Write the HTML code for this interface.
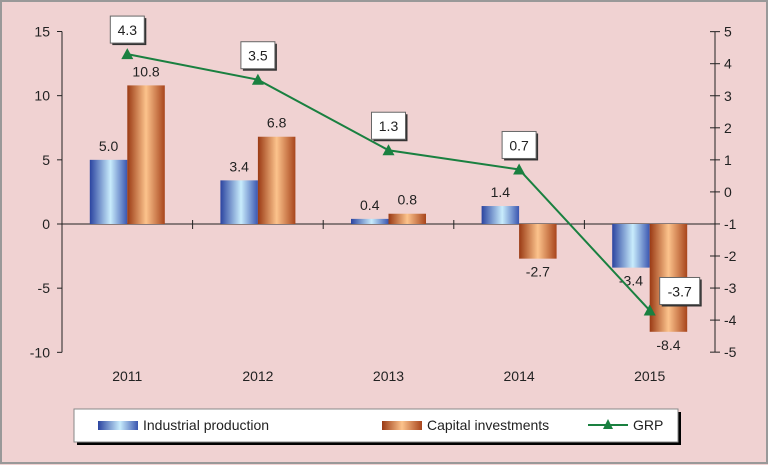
<!DOCTYPE html>
<html><head><meta charset="utf-8"><style>
html,body{margin:0;padding:0;width:768px;height:465px;overflow:hidden;background:#f0d2d2}
svg{display:block;font-family:"Liberation Sans","DejaVu Sans",sans-serif}
</style></head><body>
<svg id="chart" width="768" height="465">
<defs>
<linearGradient id="gInd" x1="0" x2="1" y1="0" y2="0"><stop offset="0" stop-color="#2b44a0"/><stop offset="0.55" stop-color="#c8ecfc"/><stop offset="1" stop-color="#3a56b0"/></linearGradient>
<linearGradient id="gCap" x1="0" x2="1" y1="0" y2="0"><stop offset="0" stop-color="#9a3a14"/><stop offset="0.5" stop-color="#fcc38c"/><stop offset="1" stop-color="#a8451c"/></linearGradient>
</defs>
<rect x="1" y="1" width="766" height="462" fill="#f0d2d2" stroke="#999" stroke-width="2"/>
<g id="plot"></g>
<g>
<rect x="77" y="412" width="604" height="33" fill="#000"/>
<rect x="74" y="409" width="604" height="33" fill="#fff" stroke="#888"/>
<rect x="98" y="421" width="40" height="9" fill="url(#gInd)"/>
<text x="143" y="430" font-size="14" fill="#222">Industrial production</text>
<rect x="382" y="421" width="40" height="9" fill="url(#gCap)"/>
<text x="427" y="430" font-size="14" fill="#222">Capital investments</text>
<line x1="588" y1="425" x2="628" y2="425" stroke="#1a8040" stroke-width="2"/>
<polygon points="608,419 603,429 613,429" fill="#1a8040"/>
<text x="633" y="430" font-size="14" fill="#222">GRP</text>
</g>
</svg>
<script>
const categories = ["2011","2012","2013","2014","2015"];
const industrial = [5.0, 3.4, 0.4, 1.4, -3.4];
const capital = [10.8, 6.8, 0.8, -2.7, -8.4];
const grp = [4.3, 3.5, 1.3, 0.7, -3.7];
const leftTicks = [15,10,5,0,-5,-10];
const rightTicks = [5,4,3,2,1,0,-1,-2,-3,-4,-5];

const NS="http://www.w3.org/2000/svg";
const g=document.getElementById('plot');
const X0=62, X1=715, catW=(X1-X0)/categories.length;
const yL=v=>224-(v)*(192.5/15);
const yR=v=>191.9-(v)*32.05;
const cx=i=>X0+catW*(i+0.5);
function el(t,a,txt){const e=document.createElementNS(NS,t);for(const k in a)e.setAttribute(k,a[k]);if(txt!==undefined)e.textContent=txt;g.appendChild(e);return e;}
const fmt=v=>v.toFixed(1);
// axes
let e=el('line',{x1:X0,y1:yL(15),x2:X0,y2:yL(-10),stroke:'#222'});


leftTicks.forEach(t=>{el('line',{x1:X0-5,x2:X0,y1:yL(t),y2:yL(t),stroke:'#222'});
 const l=el('text',{x:X0-12,y:yL(t)+5,'text-anchor':'end','font-size':14,fill:'#222'},String(t));
 
 });
e=el('line',{x1:X1,y1:yR(5),x2:X1,y2:yR(-5),stroke:'#222'});


rightTicks.forEach(t=>{el('line',{x1:X1-5,x2:X1+5,y1:yR(t),y2:yR(t),stroke:'#222'});
 const l=el('text',{x:X1+9,y:yR(t)+5,'font-size':14,fill:'#222'},String(t));
 
 });
e=el('line',{x1:X0,y1:yL(0),x2:X1,y2:yL(0),stroke:'#222'});


for(let i=1;i<categories.length;i++)el('line',{x1:X0+catW*i,x2:X0+catW*i,y1:yL(0)-4,y2:yL(0)+5,stroke:'#222'});
const bw=37.5;
categories.forEach((c,i)=>{
 const l=el('text',{x:cx(i),y:381,'text-anchor':'middle','font-size':14,fill:'#222'},c);
 
 
 [[industrial,'url(#gInd)',-bw,'bar-industrial'],[capital,'url(#gCap)',0,'bar-capital']].forEach(([arr,f,off,nm])=>{
  const v=arr[i],y0=yL(0),y1=yL(v);
  const b=el('rect',{x:cx(i)+off,y:Math.min(y0,y1),width:bw,height:Math.abs(y1-y0),fill:f});
  
  
  const ly=v>=0?y1-9:y1+18;
  const t=el('text',{x:cx(i)+off+bw/2,y:ly,'text-anchor':'middle','font-size':14,fill:'#222'},fmt(v));
  
  
 });
});
// GRP line
const pts=grp.map((v,i)=>cx(i)+','+yR(v)).join(' ');
e=el('polyline',{points:pts,fill:'none',stroke:'#1a8040','stroke-width':2});


grp.forEach((v,i)=>{
 const x=cx(i),y=yR(v);
 const m=el('polygon',{points:`${x},${y-6} ${x-6},${y+5} ${x+6},${y+5}`,fill:'#1a8040'});
 
 
 const last=i===grp.length-1;
 const bx=last?x+10:x-17, by=last?y-33:y-38, w=last?40:34;
 el('rect',{x:bx+2,y:by+2,width:w,height:27,fill:'#333'});
 el('rect',{x:bx,y:by,width:w,height:27,fill:'#fff',stroke:'#666'});
 const t=el('text',{x:bx+w/2,y:by+19,'text-anchor':'middle','font-size':14,fill:'#222'},fmt(v));
 
 
});
</script>
</body></html>
